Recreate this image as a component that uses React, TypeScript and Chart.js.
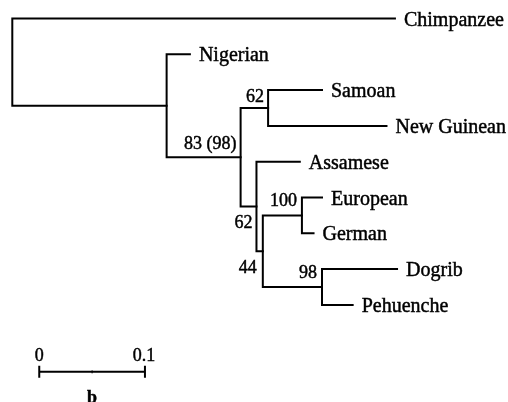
import React, { useEffect, useRef } from "react";
import { Chart, registerables } from "chart.js";
Chart.register(...registerables);

// ---- data ----
const taxa = ["Chimpanzee", "Nigerian", "Samoan", "New Guinean", "Assamese", "European", "German", "Dogrib", "Pehuenche"];
const taxonDepth = [0.362, 0.168, 0.293, 0.354, 0.272, 0.293, 0.285, 0.364, 0.322];
const nodeNames = ["root", "nA", "nB", "nSNG", "nC", "nD", "nEG", "nDP"];
const nodeDepth = [0, 0.146, 0.216, 0.242, 0.231, 0.237, 0.274, 0.293];
const nodeChildren = [
  ["Chimpanzee", "nA"],
  ["Nigerian", "nB"],
  ["nSNG", "nC"],
  ["Samoan", "New Guinean"],
  ["Assamese", "nD"],
  ["nEG", "nDP"],
  ["European", "German"],
  ["Dogrib", "Pehuenche"],
];
const nodeSupport = ["", "", "83 (98)", "62", "62", "44", "100", "98"];
const scaleBarLength = 0.1;
const scaleBarLabels = ["0", "0.1"];
const scaleBarCaption = "b";

// ---- layout (pixels / offsets, not data) ----
const W = 508;
const H = 402;
const supportOffset: Record<string, [number, number]> = {
  nB: [-4, -14],
  nSNG: [-4, -12],
  nC: [-4, 16],
  nD: [-6, 16],
  nEG: [-5, -15],
  nDP: [-5, -15.5],
};
const scaleBarStart = 0.0255;
const scaleBarRow = 9.87;

export default function App() {
  const ref = useRef<HTMLCanvasElement>(null);
  useEffect(() => {
    document.body.style.margin = "0";
    const pos: Record<string, { x: number; y: number }> = {};
    taxa.forEach((t, i) => (pos[t] = { x: taxonDepth[i], y: i }));
    const getY = (name: string): number => {
      if (pos[name]) return pos[name].y;
      const idx = nodeNames.indexOf(name);
      const ys = nodeChildren[idx].map(getY);
      const y = (Math.min(...ys) + Math.max(...ys)) / 2;
      pos[name] = { x: nodeDepth[idx], y };
      return y;
    };
    nodeNames.forEach(getY);

    const base = {
      showLine: true,
      borderColor: "#000",
      borderWidth: 2,
      pointRadius: 0,
      pointHoverRadius: 0,
      tension: 0,
      borderJoinStyle: "miter" as const,
      borderCapStyle: "square" as const,
      fill: false,
    };
    const datasets: any[] = nodeNames.map((n, i) => {
      const [a, b] = nodeChildren[i];
      return {
        ...base,
        label: n,
        data: [
          { x: pos[a].x, y: pos[a].y },
          { x: pos[n].x, y: pos[a].y },
          { x: pos[n].x, y: pos[b].y },
          { x: pos[b].x, y: pos[b].y },
        ],
      };
    });
    datasets.push({
      ...base,
      label: "scale",
      borderCapStyle: "butt",
      data: [
        { x: scaleBarStart, y: scaleBarRow },
        { x: scaleBarStart + scaleBarLength, y: scaleBarRow },
      ],
    });

    const drawText = (ctx: CanvasRenderingContext2D, s: string, x: number, y: number) => {
      ctx.fillText(s, x, y);
      ctx.strokeText(s, x, y);
    };

    const labelPlugin = {
      id: "treeLabels",
      afterDatasetsDraw(chart: any) {
        const ctx = chart.ctx as CanvasRenderingContext2D;
        const xs = chart.scales.x;
        const ys = chart.scales.y;
        ctx.save();
        ctx.fillStyle = "#000";
        ctx.strokeStyle = "#000";
        ctx.lineWidth = 0.45;
        ctx.textBaseline = "alphabetic";
        // taxon labels
        ctx.font = "20px 'Liberation Serif', 'Times New Roman', serif";
        ctx.textAlign = "left";
        taxa.forEach((t, i) => {
          const px = xs.getPixelForValue(taxonDepth[i]);
          const py = ys.getPixelForValue(i);
          drawText(ctx, t, px + 9, py + 7);
        });
        // support values
        ctx.font = "18px 'Liberation Serif', 'Times New Roman', serif";
        ctx.textAlign = "right";
        nodeNames.forEach((n, i) => {
          if (!nodeSupport[i]) return;
          const off = supportOffset[n] || [-4, -12];
          const px = xs.getPixelForValue(pos[n].x);
          const py = ys.getPixelForValue(pos[n].y);
          drawText(ctx, nodeSupport[i], px + off[0], py + off[1] + 6);
        });
        // scale bar labels
        const x0 = xs.getPixelForValue(scaleBarStart);
        const x1 = xs.getPixelForValue(scaleBarStart + scaleBarLength);
        const xm = (x0 + x1) / 2;
        const yb = ys.getPixelForValue(scaleBarRow);
        ctx.font = "18px 'Liberation Serif', 'Times New Roman', serif";
        ctx.textAlign = "center";
        drawText(ctx, scaleBarLabels[0], x0, yb - 11);
        drawText(ctx, scaleBarLabels[1], x1 - 1, yb - 11);
        ctx.font = "bold 18px 'Liberation Serif', 'Times New Roman', serif";
        drawText(ctx, scaleBarCaption, xm, yb + 31);
        // scale bar ticks
        ctx.lineWidth = 2;
        ctx.beginPath();
        ctx.moveTo(x0, yb - 6);
        ctx.lineTo(x0, yb + 6);
        ctx.moveTo(x1, yb - 6);
        ctx.lineTo(x1, yb + 6);
        ctx.stroke();
        ctx.lineWidth = 1;
        ctx.beginPath();
        ctx.moveTo(xm, yb - 1.5);
        ctx.lineTo(xm, yb + 1.5);
        ctx.stroke();
        ctx.restore();
      },
    };

    const xMin = -12.3 / 1057;
    const xMax = (W - 12.3) / 1057;
    const yMin = -18.5 / 35.8;
    const yMax = (H - 18.5) / 35.8;

    const chart = new Chart(ref.current!, {
      type: "scatter",
      data: { datasets },
      options: {
        animation: false,
        responsive: false,
        maintainAspectRatio: false,
        layout: { padding: 0 },
        events: [],
        plugins: {
          legend: { display: false },
          tooltip: { enabled: false },
          title: { display: false },
        },
        scales: {
          x: { type: "linear", display: false, min: xMin, max: xMax },
          y: { type: "linear", display: false, min: yMin, max: yMax, reverse: true },
        },
      },
      plugins: [labelPlugin],
    });
    return () => chart.destroy();
  }, []);

  return (
    <div style={{ width: W, height: H, background: "#fff" }}>
      <canvas ref={ref} width={W} height={H} style={{ display: "block" }} />
    </div>
  );
}
